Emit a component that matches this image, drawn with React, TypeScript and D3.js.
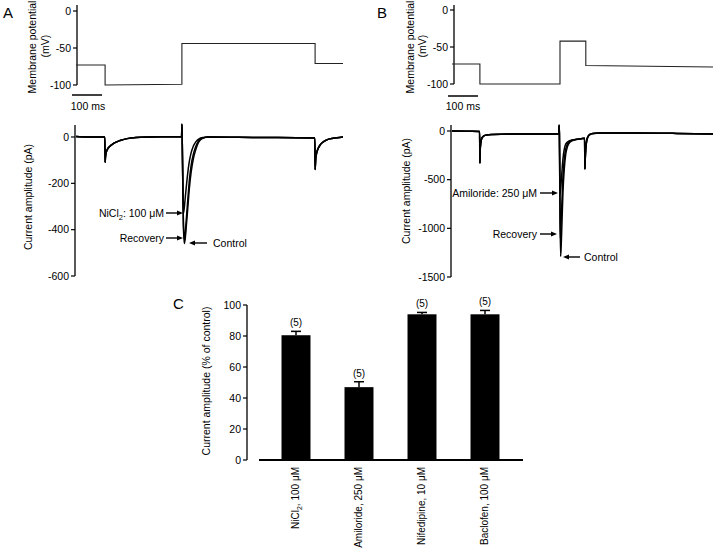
import React from "react";
import * as d3 from "d3";

const FONT = "'Liberation Sans', Arial, Helvetica, sans-serif";

// ---------- Stimulus protocols (ms, mV) ----------
const protocolA: [number, number][] = [[0, -73], [97, -73], [97, -100], [353, -99], [353, -44], [797, -44], [797, -71], [890, -71]];
const protocolB: [number, number][] = [[0, -73], [93, -73], [93, -100], [360, -100], [360, -42], [446, -42], [446, -75], [870, -77]];

const potentialTicks = [0, -50, -100];
const currentTicksA = [0, -200, -400, -600];
const currentTicksB = [0, -500, -1000, -1500];
const percentTicks = [0, 20, 40, 60, 80, 100];

// ---------- Current traces, panel A (ms, pA) ----------
const preA: [number, number][] = [[0, 2], [40, 0], [96, 0], [97, -110], [98, -90], [100, -70], [104, -55], [113, -40], [125, -28], [147, -15], [170, -7], [200, -2], [250, 0], [300, 1], [352, 2]];
const tailA: [number, number][] = [[440, 0], [600, -2], [796, -4], [797, -140], [799, -95], [802, -70], [807, -50], [815, -32], [828, -18], [845, -8], [870, -3], [890, 0]];
const controlPeakA: [number, number][] = [[353, 55], [354, 0], [356, -200], [358, -380], [361, -460], [364, -440], [368, -380], [373, -300], [378, -220], [384, -150], [391, -95], [398, -60], [406, -30], [415, -12], [425, -4]];
const recoveryPeakA: [number, number][] = [[353, 55], [354, 0], [356, -190], [358, -370], [361, -440], [364, -415], [368, -350], [373, -265], [378, -185], [384, -120], [391, -75], [398, -45], [406, -22], [415, -9], [425, -3]];
const nickelPeakA: [number, number][] = [[353, 55], [354, 0], [356, -200], [358, -330], [361, -305], [365, -250], [370, -185], [376, -120], [383, -72], [391, -40], [400, -20], [410, -8], [425, -2]];

// ---------- Current traces, panel B (ms, pA) ----------
const preB: [number, number][] = [[0, 0], [60, -2], [92, -5], [93, -330], [94, -200], [96, -120], [100, -70], [106, -50], [115, -40], [135, -35], [200, -30], [300, -30], [356, -30]];
const tailB: [number, number][] = [[442, -75], [443, -390], [444, -300], [446, -180], [449, -100], [453, -60], [460, -35], [470, -25], [490, -20], [600, -20], [750, -25], [870, -32]];
const controlPeakB: [number, number][] = [[357, 60], [358, -20], [359, -450], [360, -850], [362, -1290], [364, -1180], [367, -900], [370, -620], [374, -400], [379, -240], [385, -160], [392, -120], [400, -100], [415, -88], [430, -80]];
const recoveryPeakB: [number, number][] = [[357, 60], [358, -20], [359, -400], [360, -750], [361, -1100], [363, -1000], [366, -760], [369, -520], [373, -330], [378, -200], [384, -140], [391, -110], [400, -95], [415, -85], [430, -80]];
const amiloridePeakB: [number, number][] = [[357, 60], [358, -20], [359, -300], [360, -650], [362, -600], [365, -480], [368, -350], [372, -230], [377, -150], [384, -115], [392, -100], [400, -92], [415, -85], [430, -80]];

// ---------- Panel C ----------
const drugs = ["NiCl|2|, 100 μM", "Amiloride, 250 μM", "Nifedipine, 10 μM", "Baclofen, 100 μM"];
const amplitudes = [80.5, 47, 94, 94];
const sems = [2.5, 3.5, 1.2, 2.5];
const nCells = [5, 5, 5, 5];

// ---------- scales ----------
const xA = d3.scaleLinear().domain([0, 890]).range([76, 343]);
const xB = d3.scaleLinear().domain([0, 870]).range([452, 713]);
const yVA = d3.scaleLinear().domain([-100, 0]).range([85, 11]);
const yVB = d3.scaleLinear().domain([-100, 0]).range([84, 10]);
const yIA = d3.scaleLinear().domain([-600, 0]).range([276, 137]);
const yIB = d3.scaleLinear().domain([-1500, 0]).range([277, 131]);
const xC = d3.scaleBand<string>().domain(drugs).range([264.5, 516.5]).paddingInner(0.54).paddingOuter(0.27);
const yC = d3.scaleLinear().domain([0, 100]).range([460, 305]);

function linePath(data: [number, number][], x: any, y: any, curve = d3.curveLinear) {
  return d3.line<[number, number]>().x(d => x(d[0])).y(d => y(d[1])).curve(curve)(data) || "";
}

const TXT = { fontFamily: FONT, fontSize: 10.5, fill: "#000" } as const;

function YAxis({ x, scale, ticks, top }: { x: number; scale: any; ticks: number[]; top: number }) {
  const y0 = scale(d3.min(ticks));
  return (
    <g>
      <line x1={x} x2={x} y1={top} y2={y0} stroke="#000" strokeWidth={1.3} />
      {ticks.map(t => (
        <g key={t}>
          <line x1={x - 4} x2={x} y1={scale(t)} y2={scale(t)} stroke="#000" strokeWidth={1.2} />
          <text x={x - 6} y={scale(t)} dy="0.35em" textAnchor="end" {...TXT}>{t}</text>
        </g>
      ))}
    </g>
  );
}

function Arrow({ x1, x2, y }: { x1: number; x2: number; y: number }) {
  const dir = x2 > x1 ? 1 : -1;
  const hx = x2 - dir * 6;
  return (
    <g>
      <line x1={x1} x2={hx} y1={y} y2={y} stroke="#000" strokeWidth={1.4} />
      <polygon points={`${x2},${y} ${hx},${y - 2.6} ${hx},${y + 2.6}`} fill="#000" />
    </g>
  );
}

function VLabel({ x, y, children, size = 10.5 }: any) {
  return (
    <text transform={`translate(${x},${y}) rotate(-90)`} textAnchor="middle" fontFamily={FONT} fontSize={size} fill="#000">{children}</text>
  );
}

function DrugLabel({ label, x, y }: { label: string; x: number; y: number }) {
  const parts = label.split("|");
  return (
    <text transform={`translate(${x},${y}) rotate(-90)`} textAnchor="end" fontFamily={FONT} fontSize={10} fill="#000">
      {parts.length === 3 ? (
        <>
          {parts[0]}
          <tspan fontSize={7} dy={3}>{parts[1]}</tspan>
          <tspan dy={-3}>{parts[2]}</tspan>
        </>
      ) : label}
    </text>
  );
}

export default function App() {
  const tracesA = [
    [...preA, ...nickelPeakA, ...tailA],
    [...preA, ...recoveryPeakA, ...tailA],
    [...preA, ...controlPeakA, ...tailA],
  ] as [number, number][][];
  const tracesB = [
    [...preB, ...amiloridePeakB, ...tailB],
    [...preB, ...recoveryPeakB, ...tailB],
    [...preB, ...controlPeakB, ...tailB],
  ] as [number, number][][];
  const bw = xC.bandwidth();

  return (
    <svg width={720} height={551} viewBox="0 0 720 551" style={{ position: "absolute", left: 0, top: 0, background: "#fff" }}>
      <rect width={720} height={551} fill="#fff" />

      {/* ---------------- Panel A ---------------- */}
      <text x={3} y={18} fontFamily={FONT} fontSize={15} fill="#000">A</text>
      <VLabel x={36} y={47}>Membrane potential</VLabel>
      <VLabel x={49} y={46}>(mV)</VLabel>
      <YAxis x={77} scale={yVA} ticks={potentialTicks} top={5} />
      <path d={linePath(protocolA, xA, yVA)} fill="none" stroke="#222" strokeWidth={1.1} />
      <line x1={72} x2={102} y1={95} y2={95} stroke="#000" strokeWidth={1.5} />
      <text x={88} y={110} textAnchor="middle" {...TXT}>100 ms</text>

      <VLabel x={32} y={197}>Current amplitude (pA)</VLabel>
      <YAxis x={75} scale={yIA} ticks={currentTicksA} top={125} />
      {tracesA.map((t, i) => (
        <path key={i} d={linePath(t, xA, yIA, d3.curveMonotoneX)} fill="none" stroke="#000" strokeWidth={1.5} />
      ))}
      <text x={164} y={213} dy="0.35em" textAnchor="end" {...TXT}>
        NiCl<tspan fontSize={7.5} dy={3}>2</tspan><tspan dy={-3}>: 100 μM</tspan>
      </text>
      <Arrow x1={166} x2={183} y={213} />
      <text x={164} y={238} dy="0.35em" textAnchor="end" {...TXT}>Recovery</text>
      <Arrow x1={166} x2={183} y={238} />
      <Arrow x1={207} x2={189} y={243} />
      <text x={213} y={243} dy="0.35em" {...TXT}>Control</text>

      {/* ---------------- Panel B ---------------- */}
      <text x={377} y={18} fontFamily={FONT} fontSize={15} fill="#000">B</text>
      <VLabel x={414} y={47}>Membrane potential</VLabel>
      <VLabel x={426} y={46}>(mV)</VLabel>
      <YAxis x={454} scale={yVB} ticks={potentialTicks} top={5} />
      <path d={linePath(protocolB, xB, yVB)} fill="none" stroke="#222" strokeWidth={1.1} />
      <line x1={448} x2={478} y1={96} y2={96} stroke="#000" strokeWidth={1.5} />
      <text x={463} y={110} textAnchor="middle" {...TXT}>100 ms</text>

      <VLabel x={410} y={191}>Current amplitude (pA)</VLabel>
      <YAxis x={451} scale={yIB} ticks={currentTicksB} top={125} />
      {tracesB.map((t, i) => (
        <path key={i} d={linePath(t, xB, yIB, d3.curveMonotoneX)} fill="none" stroke="#000" strokeWidth={1.5} />
      ))}
      <text x={537} y={193} dy="0.35em" textAnchor="end" {...TXT}>Amiloride: 250 μM</text>
      <Arrow x1={540} x2={558} y={193} />
      <text x={537} y={234} dy="0.35em" textAnchor="end" {...TXT}>Recovery</text>
      <Arrow x1={540} x2={557} y={234} />
      <Arrow x1={580} x2={563} y={257} />
      <text x={584} y={257} dy="0.35em" {...TXT}>Control</text>

      {/* ---------------- Panel C ---------------- */}
      <text x={173} y={309} fontFamily={FONT} fontSize={15} fill="#000">C</text>
      <VLabel x={210} y={381}>Current amplitude (% of control)</VLabel>
      <YAxis x={247} scale={yC} ticks={percentTicks} top={305} />
      <line x1={259} x2={523} y1={yC(0)} y2={yC(0)} stroke="#000" strokeWidth={2} />
      {drugs.map((d, i) => {
        const x0 = xC(d) as number;
        const cx = x0 + bw / 2;
        const top = yC(amplitudes[i]);
        const errTop = yC(amplitudes[i] + sems[i]);
        return (
          <g key={d}>
            <rect x={x0} y={top} width={bw} height={yC(0) - top} fill="#000" />
            <line x1={cx} x2={cx} y1={top} y2={errTop} stroke="#000" strokeWidth={1.5} />
            <line x1={cx - 5} x2={cx + 5} y1={errTop} y2={errTop} stroke="#000" strokeWidth={1.5} />
            <text x={cx} y={errTop - 5} textAnchor="middle" fontFamily={FONT} fontSize={10} fill="#000">({nCells[i]})</text>
            <DrugLabel label={d} x={cx + 3} y={467} />
          </g>
        );
      })}
    </svg>
  );
}
